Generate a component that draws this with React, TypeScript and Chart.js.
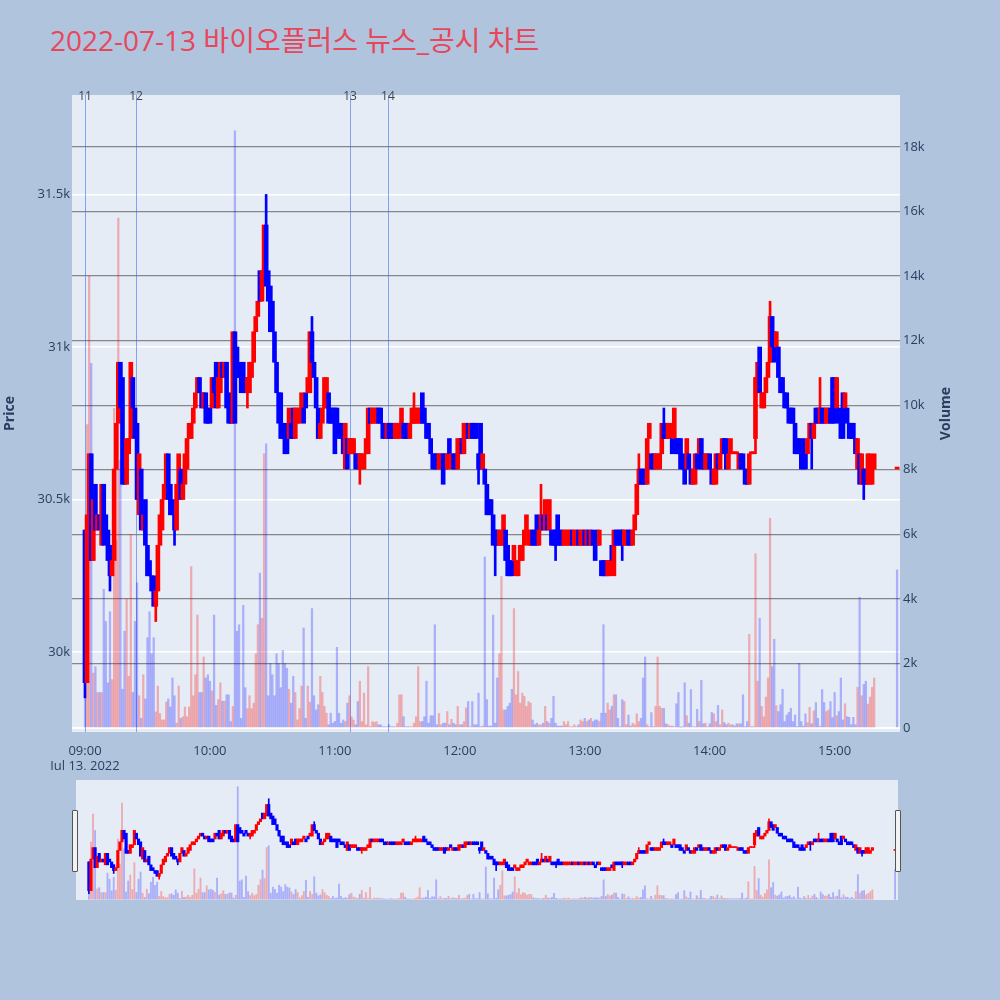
import { useEffect, useRef } from "react"
import { Chart, registerables } from "chart.js"

Chart.register(...registerables)

const titleText = "2022-07-13 바이오플러스 뉴스_공시 차트"

// one candle per minute, index = minutes after 09:00
const opens = [
  30400, 29900, 30450, 30650, 30300, 30550, 30400, 30450, 30350, 30550,
  30450, 30400, 30350, 30250, 30300, 30600, 30750, 30950, 30900, 30600,
  30550, 30650, 30700, 30900, 30800, 30750, 30450, 30600, 30400, 30500,
  30350, 30300, 30250, 30250, 30150, 30200, 30350, 30400, 30500, 30550,
  30650, 30550, 30500, 30450, 30400, 30550, 30600, 30500, 30550, 30600,
  30700, 30700, 30750, 30800, 30850, 30900, 30850, 30800, 30850, 30800,
  30800, 30800, 30900, 30950, 30800, 30850, 30950, 30900, 30950, 30850,
  30800, 30750, 31050, 31000, 30950, 30900, 30950, 30900, 30850, 30850,
  30900, 30950, 31050, 31100, 31250, 31150, 31200, 31400, 31250, 31200,
  31150, 31050, 30950, 30850, 30850, 30750, 30750, 30700, 30700, 30750,
  30800, 30700, 30750, 30750, 30800, 30800, 30850, 30850, 30850, 31050,
  30950, 30900, 30800, 30700, 30750, 30800, 30800, 30850, 30800, 30800,
  30800, 30800, 30750, 30750, 30700, 30600, 30700, 30650, 30650, 30650,
  30650, 30650, 30600, 30600, 30600, 30650, 30650, 30800, 30750, 30750,
  30750, 30800, 30800, 30750, 30750, 30700, 30750, 30750, 30750, 30700,
  30700, 30700, 30750, 30750, 30750, 30750, 30700, 30750, 30750, 30750,
  30750, 30750, 30850, 30800, 30750, 30750, 30700, 30650, 30650, 30650,
  30600, 30600, 30650, 30650, 30600, 30700, 30600, 30650, 30650, 30600,
  30650, 30700, 30650, 30700, 30750, 30700, 30750, 30750, 30750, 30650,
  30750, 30600, 30600, 30550, 30500, 30500, 30450, 30400, 30400, 30350,
  30350, 30350, 30400, 30350, 30300, 30300, 30300, 30250, 30250, 30300,
  30300, 30350, 30400, 30350, 30350, 30400, 30400, 30450, 30350, 30400,
  30450, 30400, 30450, 30400, 30400, 30400, 30400, 30450, 30400, 30400,
  30350, 30350, 30350, 30350, 30400, 30350, 30350, 30400, 30350, 30350,
  30400, 30350, 30400, 30350, 30400, 30350, 30400, 30350, 30300, 30300,
  30300, 30250, 30250, 30350, 30250, 30400, 30400, 30400, 30400, 30350,
  30350, 30400, 30400, 30350, 30400, 30450, 30550, 30600, 30600, 30600,
  30550, 30700, 30650, 30650, 30600, 30600, 30600, 30650, 30750, 30750,
  30700, 30700, 30700, 30700, 30700, 30700, 30700, 30650, 30600, 30600,
  30650, 30600, 30550, 30550, 30650, 30650, 30700, 30650, 30600, 30600,
  30650, 30600, 30550, 30550, 30650, 30600, 30650, 30700, 30700, 30600,
  30650, 30650, 30650, 30650, 30600, 30650, 30650, 30600, 30600, 30550,
  30650, 30650, 30700, 30850, 31000, 30800, 30800, 30850, 30900, 30950,
  31100, 31050, 31000, 31000, 30900, 30900, 30850, 30850, 30800, 30800,
  30800, 30750, 30700, 30700, 30650, 30700, 30650, 30650, 30700, 30750,
  30700, 30800, 30800, 30750, 30800, 30800, 30750, 30750, 30800, 30900,
  30900, 30800, 30800, 30750, 30850, 30800, 30800, 30750, 30750, 30750,
  30700, 30600, 30650, 30550, 30600, 30600, 30550, 30550, 30550, 30600,
]

const closes = [
  29900, 30450, 30650, 30300, 30500, 30400, 30450, 30400, 30550, 30350,
  30400, 30300, 30250, 30300, 30600, 30750, 30950, 30800, 30550, 30550,
  30700, 30700, 30950, 30800, 30700, 30500, 30650, 30400, 30450, 30350,
  30250, 30250, 30200, 30150, 30200, 30350, 30450, 30500, 30550, 30650,
  30500, 30450, 30450, 30400, 30550, 30650, 30500, 30550, 30650, 30700,
  30750, 30750, 30800, 30850, 30900, 30850, 30800, 30850, 30750, 30750,
  30750, 30900, 30850, 30800, 30900, 30950, 30900, 30950, 30800, 30750,
  30750, 31050, 30750, 30900, 30900, 30850, 30900, 30850, 30900, 30950,
  30950, 31050, 31100, 31150, 31150, 31250, 31400, 31200, 31150, 31050,
  31050, 30950, 30850, 30750, 30700, 30700, 30650, 30650, 30800, 30700,
  30700, 30800, 30800, 30800, 30850, 30750, 30800, 30900, 31050, 30950,
  30900, 30800, 30700, 30750, 30800, 30900, 30900, 30750, 30750, 30750,
  30650, 30750, 30700, 30700, 30650, 30750, 30600, 30700, 30700, 30700,
  30600, 30600, 30650, 30650, 30650, 30700, 30800, 30750, 30800, 30800,
  30800, 30750, 30750, 30700, 30700, 30750, 30700, 30700, 30700, 30750,
  30750, 30750, 30800, 30700, 30700, 30700, 30750, 30800, 30800, 30800,
  30800, 30800, 30750, 30750, 30700, 30700, 30650, 30600, 30600, 30600,
  30650, 30650, 30550, 30600, 30650, 30650, 30650, 30600, 30600, 30700,
  30700, 30650, 30750, 30750, 30700, 30750, 30700, 30700, 30700, 30600,
  30600, 30650, 30550, 30450, 30450, 30450, 30350, 30350, 30350, 30400,
  30400, 30450, 30300, 30250, 30250, 30250, 30350, 30300, 30300, 30350,
  30350, 30400, 30450, 30400, 30400, 30350, 30350, 30350, 30400, 30450,
  30400, 30500, 30400, 30500, 30350, 30350, 30350, 30350, 30350, 30350,
  30400, 30400, 30400, 30400, 30350, 30400, 30400, 30350, 30400, 30400,
  30350, 30400, 30350, 30400, 30350, 30300, 30350, 30400, 30250, 30250,
  30250, 30300, 30300, 30300, 30400, 30350, 30350, 30350, 30350, 30400,
  30400, 30350, 30350, 30400, 30450, 30550, 30600, 30550, 30550, 30550,
  30700, 30750, 30600, 30600, 30650, 30650, 30650, 30750, 30700, 30700,
  30750, 30750, 30650, 30800, 30650, 30650, 30600, 30600, 30550, 30700,
  30600, 30550, 30600, 30650, 30600, 30700, 30600, 30600, 30650, 30650,
  30600, 30550, 30600, 30650, 30600, 30650, 30700, 30650, 30600, 30650,
  30700, 30650, 30650, 30650, 30650, 30600, 30600, 30550, 30550, 30650,
  30650, 30650, 30900, 30950, 30850, 30850, 30850, 30900, 30950, 31100,
  31000, 30950, 31050, 30900, 30850, 30850, 30800, 30800, 30750, 30750,
  30750, 30650, 30650, 30650, 30600, 30600, 30600, 30700, 30750, 30700,
  30750, 30750, 30750, 30800, 30750, 30750, 30800, 30800, 30750, 30750,
  30750, 30900, 30750, 30700, 30700, 30850, 30750, 30700, 30700, 30700,
  30650, 30700, 30550, 30650, 30550, 30550, 30650, 30650, 30600, 30650,
]

const volumes = [
  1200, 9400, 14000, 11300, 1700, 1900, 1100, 1100, 1100, 4300,
  3300, 1400, 3600, 1500, 9900, 5800, 15800, 8300, 1200, 3000,
  4000, 1600, 6000, 1100, 3300, 4500, 1000, 300, 1650, 900,
  2800, 3600, 2300, 2800, 500, 1300, 450, 250, 250, 800,
  900, 650, 1550, 1000, 150, 1300, 300, 350, 650, 350,
  650, 5000, 1000, 1650, 3500, 1100, 1100, 2200, 1550, 1650,
  1450, 1150, 3500, 700, 880, 1400, 830, 830, 1030, 1030,
  200, 670, 18500, 3000, 3200, 300, 3800, 1250, 600, 1000,
  600, 770, 2300, 3200, 4800, 3400, 8500, 8800, 1000, 2000,
  1650, 1000, 2300, 2000, 1250, 2400, 2000, 1850, 1200, 770,
  1600, 1100, 250, 600, 1300, 3100, 300, 1300, 800, 3700,
  1000, 560, 720, 1600, 1100, 670, 460, 100, 460, 150,
  200, 2500, 460, 150, 250, 200, 770, 1000, 350, 250,
  100, 820, 1450, 200, 1080, 100, 1900, 40, 200, 170,
  200, 100, 100, 40, 40, 40, 100, 40, 40, 40,
  150, 1030, 1030, 350, 40, 40, 40, 40, 150, 350,
  1900, 200, 200, 350, 1450, 150, 380, 380, 3200, 100,
  450, 100, 150, 150, 510, 100, 270, 150, 100, 670,
  100, 100, 200, 620, 820, 40, 820, 100, 100, 1080,
  40, 60, 5300, 880, 60, 60, 3500, 150, 1550, 2300,
  4700, 560, 560, 670, 770, 1200, 3700, 1030, 1750, 770,
  1080, 980, 670, 820, 770, 250, 100, 150, 100, 100,
  150, 670, 200, 150, 300, 980, 150, 60, 60, 60,
  200, 100, 200, 40, 40, 100, 40, 100, 250, 200,
  300, 200, 250, 300, 200, 250, 250, 200, 460, 3200,
  460, 770, 560, 670, 1030, 1030, 300, 40, 880, 820,
  100, 400, 60, 150, 100, 440, 200, 300, 1550, 2200,
  100, 40, 480, 40, 670, 2200, 670, 610, 610, 130,
  100, 60, 60, 40, 750, 1100, 20, 40, 1400, 380,
  150, 1190, 40, 40, 580, 200, 1480, 130, 150, 40,
  130, 480, 440, 200, 700, 100, 560, 170, 100, 150,
  100, 100, 60, 130, 130, 130, 1030, 40, 200, 2900,
  40, 40, 5400, 1450, 3400, 670, 350, 960, 1550, 6500,
  1900, 2750, 690, 510, 720, 1200, 200, 400, 480, 610,
  200, 400, 40, 2000, 200, 60, 440, 170, 640, 130,
  530, 790, 300, 60, 1190, 790, 510, 560, 820, 320,
  1100, 380, 510, 1550, 250, 750, 350, 330, 100, 330,
  100, 1260, 4050, 1000, 1350, 1450, 740, 960, 1260, 1550,
]

// [minute, low, high] for candles whose shadows reach past the body
const wicks = [
  [0, 29850, 30400],
  [12, 30200, 30350],
  [34, 30100, 30200],
  [43, 30350, 30450],
  [78, 30800, 30900],
  [87, 31200, 31500],
  [109, 30950, 31100],
  [132, 30550, 30650],
  [158, 30750, 30850],
  [189, 30550, 30650],
  [197, 30250, 30400],
  [219, 30400, 30550],
  [226, 30300, 30400],
  [258, 30300, 30400],
  [266, 30550, 30650],
  [278, 30700, 30800],
  [322, 30650, 30900],
  [329, 30950, 31150],
  [349, 30600, 30750],
  [353, 30750, 30900],
  [374, 30500, 30600],
]

// 15:30 closing auction
const auctionMinute = 390
const auctionPrice = 30600
const auctionVolume = 4900

const hourTicks = [0, 60, 120, 180, 240, 300, 360]
const hourLabels = ["09:00", "10:00", "11:00", "12:00", "13:00", "14:00", "15:00"]
const dateLabel = "Jul 13, 2022"

const priceTicks = [30000, 30500, 31000, 31500]
const priceTickLabels = ["30k", "30.5k", "31k", "31.5k"]
const volumeTicks = [0, 2000, 4000, 6000, 8000, 10000, 12000, 14000, 16000, 18000]
const volumeTickLabels = ["0", "2k", "4k", "6k", "8k", "10k", "12k", "14k", "16k", "18k"]

const newsMinutes = [0, 24.5, 127.3, 145.5]
const newsLabels = ["11", "12", "13", "14"]

const FONT = '"Open Sans", "Noto Sans CJK KR", sans-serif'
const TEXT = "#2a3f5f"
const UP = "#ff0000"
const DOWN = "#0000ff"

function buildDatasets(mini: boolean) {
  const o = [...opens, auctionPrice]
  const c = [...closes, auctionPrice]
  const v = [...volumes, auctionVolume]
  const xs = [...opens.map((_, i) => i), auctionMinute]

  const bodies = xs.map((x, i) => ({ x, y: [o[i], c[i]] }))
  const bodyColors = xs.map((_, i) => (c[i] >= o[i] ? UP : DOWN))
  const vols = xs.map((x, i) => ({ x, y: v[i] }))
  const volColors = xs.map((_, i) =>
    c[i] > o[i] ? "rgba(255,0,0,0.28)" : "rgba(0,0,255,0.26)"
  )
  const wickData = wicks.map(([m, lo, hi]) => ({ x: m, y: [lo, hi] }))
  const wickColors = wicks.map(([m]) => (closes[m] >= opens[m] ? UP : DOWN))

  return [
    {
      label: "candle",
      data: bodies,
      backgroundColor: bodyColors,
      barThickness: mini ? 2.5 : 4,
      minBarLength: mini ? 1 : 2,
      grouped: false,
      yAxisID: "y",
      order: 1,
    },
    {
      label: "wick",
      data: wickData,
      backgroundColor: wickColors,
      barThickness: mini ? 1 : 2,
      grouped: false,
      yAxisID: "y",
      order: 2,
    },
    {
      label: "volume",
      data: vols,
      backgroundColor: volColors,
      barThickness: mini ? 1.2 : 1.6,
      grouped: false,
      yAxisID: "y2",
      order: 3,
    },
  ]
}

const plotBackground = {
  id: "plotBackground",
  beforeDraw(chart: any) {
    const { ctx, chartArea } = chart
    ctx.save()
    ctx.fillStyle = "#e5ecf6"
    ctx.fillRect(chartArea.left, chartArea.top, chartArea.right - chartArea.left, chartArea.bottom - chartArea.top)
    ctx.restore()
  },
}

const newsMarkers = {
  id: "newsMarkers",
  beforeDatasetsDraw(chart: any) {
    const { ctx, chartArea, scales } = chart
    ctx.save()
    ctx.strokeStyle = "rgba(70,110,240,0.6)"
    ctx.lineWidth = 1
    newsMinutes.forEach((m) => {
      const x = Math.round(scales.x.getPixelForValue(m)) + 0.5
      ctx.beginPath()
      ctx.moveTo(x, chartArea.top)
      ctx.lineTo(x, chartArea.bottom)
      ctx.stroke()
    })
    ctx.restore()
  },
  afterDraw(chart: any) {
    const { ctx, chartArea, scales } = chart
    ctx.save()
    ctx.fillStyle = "#444"
    ctx.font = `12px ${FONT}`
    ctx.textAlign = "center"
    ctx.textBaseline = "middle"
    newsMinutes.forEach((m, i) => {
      ctx.fillText(newsLabels[i], scales.x.getPixelForValue(m), chartArea.top + 2)
    })
    ctx.restore()
  },
}

const axisTitles = {
  id: "axisTitles",
  afterDraw(chart: any) {
    const { ctx, chartArea } = chart
    const midY = (chartArea.top + chartArea.bottom) / 2
    ctx.save()
    ctx.fillStyle = TEXT
    ctx.font = `bold 14px ${FONT}`
    ctx.textAlign = "center"
    ctx.textBaseline = "middle"
    ctx.translate(10, midY)
    ctx.rotate(-Math.PI / 2)
    ctx.fillText("Price", 0, 0)
    ctx.restore()

    ctx.save()
    ctx.fillStyle = TEXT
    ctx.font = `bold 14px ${FONT}`
    ctx.textAlign = "center"
    ctx.textBaseline = "middle"
    ctx.translate(chartArea.right + 46, midY)
    ctx.rotate(-Math.PI / 2)
    ctx.fillText("Volume", 0, 0)
    ctx.restore()
  },
}

function makeConfig(mini: boolean): any {
  const tickFont = { family: FONT, size: 13 }
  // axis boxes only exist on the main chart; the range slider uses the full canvas
  const fit = (prop: "width" | "height", size: number) => (s: any) => {
    if (!mini) s[prop] = size
  }
  return {
    type: "bar",
    data: { datasets: buildDatasets(mini) },
    options: {
      animation: false,
      responsive: true,
      maintainAspectRatio: false,
      events: [],
      layout: { padding: mini ? 0 : { top: 95, left: 0, right: 0, bottom: 0 } },
      plugins: { legend: { display: false }, tooltip: { enabled: false } },
      scales: {
        x: {
          type: "linear",
          display: !mini,
          min: -6.24,
          max: 391.4,
          offset: false,
          grid: { display: false },
          border: { display: false },
          afterBuildTicks: (s: any) => {
            s.ticks = hourTicks.map((value) => ({ value }))
          },
          afterFit: fit("height", 38),
          ticks: {
            autoSkip: false,
            maxRotation: 0,
            padding: 3,
            color: TEXT,
            font: tickFont,
            callback: (value: number) => {
              const i = hourTicks.indexOf(value)
              const label = hourLabels[i]
              return i === 0 ? [label, dateLabel] : label
            },
          },
        },
        y: {
          position: "left",
          display: !mini,
          min: 29738,
          max: 31826,
          border: { display: false },
          grid: { color: "#ffffff", lineWidth: 1.6, drawTicks: false },
          afterBuildTicks: (s: any) => {
            s.ticks = priceTicks.map((value) => ({ value }))
          },
          afterFit: fit("width", 72),
          ticks: {
            autoSkip: false,
            padding: 2,
            color: TEXT,
            font: tickFont,
            callback: (value: number) => priceTickLabels[priceTicks.indexOf(value)],
          },
        },
        y2: {
          position: "right",
          display: !mini,
          min: -124,
          max: 19611,
          border: { display: false },
          grid: {
            drawTicks: false,
            color: (ctx: any) => (ctx.tick && ctx.tick.value === 0 ? "#ffffff" : "rgba(110,110,110,0.8)"),
            lineWidth: (ctx: any) => (ctx.tick && ctx.tick.value === 0 ? 2 : 1.3),
          },
          afterBuildTicks: (s: any) => {
            s.ticks = volumeTicks.map((value) => ({ value }))
          },
          afterFit: fit("width", 100),
          ticks: {
            autoSkip: false,
            padding: 3,
            color: TEXT,
            font: tickFont,
            callback: (value: number) => volumeTickLabels[volumeTicks.indexOf(value)],
          },
        },
      },
    },
    plugins: mini ? [] : [plotBackground, newsMarkers, axisTitles],
  }
}

export default function App() {
  const mainRef = useRef<HTMLCanvasElement>(null)
  const sliderRef = useRef<HTMLCanvasElement>(null)

  useEffect(() => {
    const charts: Chart[] = []
    if (mainRef.current) charts.push(new Chart(mainRef.current, makeConfig(false)))
    if (sliderRef.current) charts.push(new Chart(sliderRef.current, makeConfig(true)))
    return () => {
      charts.forEach((c) => c.destroy())
    }
  }, [])

  const handle = {
    position: "absolute" as const,
    top: 810,
    width: 4,
    height: 60,
    background: "#f2f2f2",
    border: "1px solid #555",
    borderRadius: 1,
  }

  return (
    <div
      style={{
        position: "absolute",
        left: 0,
        top: 0,
        width: 1000,
        height: 1000,
        background: "#b0c4de",
        overflow: "hidden",
      }}
    >
      <div
        style={{
          position: "absolute",
          left: 50,
          top: 22,
          fontFamily: FONT,
          fontSize: 28,
          lineHeight: "36px",
          color: "#e8475b",
          whiteSpace: "nowrap",
        }}
      >
        {titleText}
      </div>
      <div style={{ position: "absolute", left: 0, top: 0, width: 1000, height: 770 }}>
        <canvas ref={mainRef} />
      </div>
      <div
        style={{
          position: "absolute",
          left: 76,
          top: 780,
          width: 822,
          height: 120,
          background: "#e5ecf6",
        }}
      >
        <canvas ref={sliderRef} />
      </div>
      <div style={{ ...handle, left: 72 }} />
      <div style={{ ...handle, left: 895 }} />
    </div>
  )
}
